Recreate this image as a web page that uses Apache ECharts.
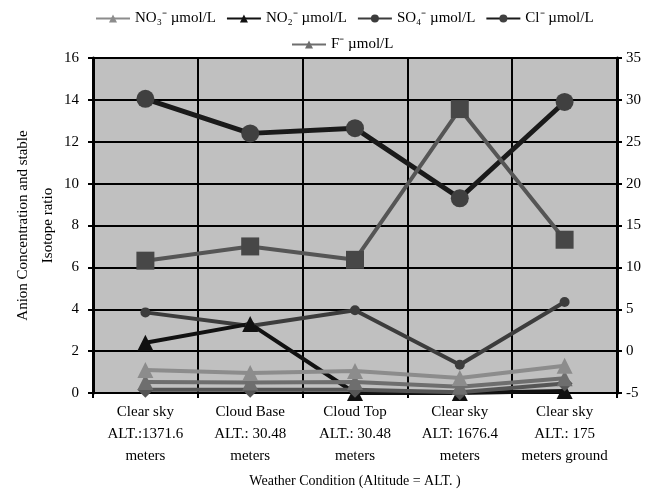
<!DOCTYPE html>
<html>
<head>
<meta charset="utf-8">
<script src="https://cdn.jsdelivr.net/npm/echarts@6/dist/echarts.min.js"></script>
<style>
  html, body { margin: 0; padding: 0; background: #fff; }
  #chart { width: 658px; height: 492px; }
</style>
</head>
<body>
<div id="chart"></div>
<script>
// categories along the x axis
const conditions = [
    'Clear sky\nALT.:1371.6\nmeters',
    'Cloud Base\nALT.: 30.48\nmeters',
    'Cloud Top\nALT.: 30.48\nmeters',
    'Clear sky\nALT: 1676.4\nmeters',
    'Clear sky\nALT.: 175\nmeters ground'
]

// anion concentrations, left axis
const no3 = [1.1, 0.95, 1.05, 0.72, 1.3]
const no2 = [2.4, 3.3, 0, 0, 0.1]
const so4 = [3.85, 3.2, 3.95, 1.35, 4.35]
const cl = [14.05, 12.4, 12.65, 9.3, 13.9]
const fl = [0.52, 0.5, 0.52, 0.3, 0.7]
const other = [0.15, 0.15, 0.15, 0.04, 0.45]

// isotope ratio, right axis
const isotope = [10.8, 12.5, 10.9, 28.9, 13.3]

const font = 'Liberation Serif'

window.addEventListener('load', function () {
    let chart = echarts.init(document.getElementById('chart'))

    function line(name, data, color, lineColor, symbol, size, width, axis) {
        return {
            name: name,
            type: 'line',
            data: data,
            yAxisIndex: axis || 0,
            symbol: symbol,
            symbolSize: size,
            itemStyle: { color: color },
            lineStyle: { color: lineColor, width: width },
            emphasis: { disabled: true },
            animation: false
        }
    }

    const legendText = { fontFamily: font, fontSize: 15, color: '#000' }

    chart.setOption({
        backgroundColor: '#fff',
        legend: [{
            top: 6,
            left: 90,
            itemWidth: 34,
            itemHeight: 10,
            itemGap: 10,
            textStyle: legendText,
            data: ['NO₃⁻ µmol/L', 'NO₂⁻ µmol/L', 'SO₄⁻ µmol/L', 'Cl⁻ µmol/L']
        }, {
            top: 32,
            left: 286,
            itemWidth: 34,
            itemHeight: 10,
            textStyle: legendText,
            data: ['F⁻ µmol/L']
        }],
        grid: {
            left: 93, right: 41, top: 58, bottom: 99,
            outerBoundsMode: 'none',
            containLabel: false,
            show: true, backgroundColor: '#c0c0c0', borderColor: '#808080', borderWidth: 1
        },
        xAxis: {
            type: 'category',
            data: conditions,
            name: 'Weather Condition (Altitude = ALT. )',
            nameLocation: 'middle',
            nameGap: 81,
            nameTextStyle: { fontFamily: font, fontSize: 14, color: '#000' },
            axisLine: { lineStyle: { color: '#000', width: 2 } },
            axisTick: { show: true, length: 5, lineStyle: { color: '#000', width: 2 } },
            axisLabel: { fontFamily: font, fontSize: 15, color: '#000', lineHeight: 22, margin: 8, interval: 0 },
            splitLine: { show: true, interval: 0, lineStyle: { color: '#000', width: 2 } }
        },
        yAxis: [{
            type: 'value',
            min: 0,
            max: 16,
            interval: 2,
            axisLine: { show: true, lineStyle: { color: '#000', width: 3 } },
            axisTick: { show: true, length: 5, lineStyle: { color: '#000', width: 2 } },
            axisLabel: { fontFamily: font, fontSize: 15, color: '#000', margin: 14 },
            splitLine: { show: true, lineStyle: { color: '#000', width: 2 } }
        }, {
            type: 'value',
            min: -5,
            max: 35,
            interval: 5,
            position: 'right',
            axisLine: { show: true, lineStyle: { color: '#000', width: 3 } },
            axisTick: { show: true, length: 5, lineStyle: { color: '#000', width: 2 } },
            axisLabel: { fontFamily: font, fontSize: 15, color: '#000', margin: 9 },
            splitLine: { show: false }
        }, {
            // carries only the left axis title
            type: 'value',
            min: 0,
            max: 16,
            position: 'left',
            name: 'Anion Concentration and stable\nIsotope ratio',
            nameLocation: 'middle',
            nameGap: 32,
            nameTextStyle: { fontFamily: font, fontSize: 15, color: '#000', lineHeight: 25 },
            axisLine: { show: false },
            axisTick: { show: false },
            axisLabel: { show: false },
            splitLine: { show: false }
        }],
        series: [
            line('Cl⁻ µmol/L', cl, '#404040', '#1a1a1a', 'circle', 18, 5),
            line('Isotope ratio', isotope, '#474747', '#555555', 'rect', 18, 4, 1),
            line('SO₄⁻ µmol/L', so4, '#3c3c3c', '#3c3c3c', 'circle', 10, 4),
            line('NO₂⁻ µmol/L', no2, '#111', '#111', 'triangle', 16, 4),
            line('Other', other, '#555555', '#555555', 'diamond', 16, 4),
            line('F⁻ µmol/L', fl, '#6e6e6e', '#6e6e6e', 'triangle', 16, 4),
            line('NO₃⁻ µmol/L', no3, '#8c8c8c', '#8c8c8c', 'triangle', 16, 4)
        ]
    })
})
</script>
</body>
</html>
